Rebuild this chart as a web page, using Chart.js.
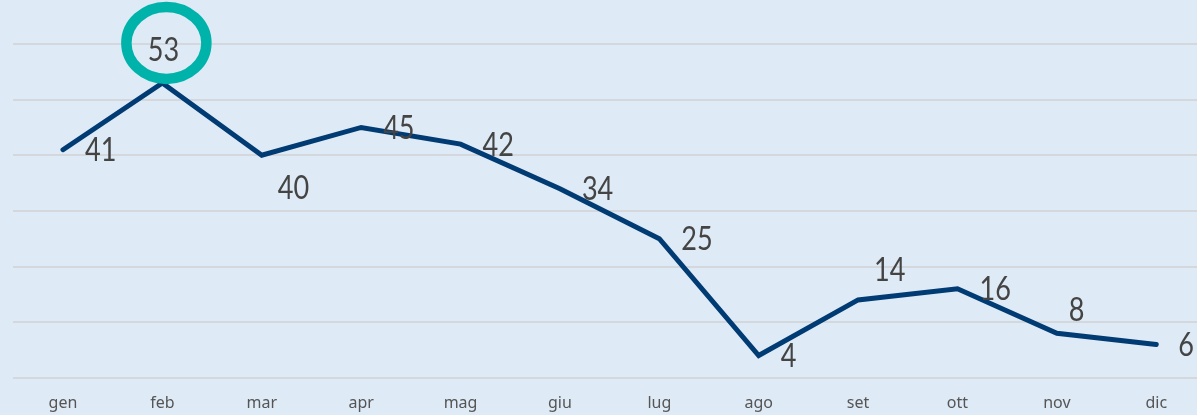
<!DOCTYPE html>
<html>
<head>
<meta charset="utf-8">
<script src="https://cdn.jsdelivr.net/npm/chart.js@4"></script>
<style>
  html, body { margin: 0; padding: 0; background: #deeaf5; overflow: hidden; }
  #wrap { width: 1197px; height: 421px; position: relative; }
</style>
</head>
<body>
<div id="wrap"><canvas id="c"></canvas></div>
<script>
const months = ['gen','feb','mar','apr','mag','giu','lug','ago','set','ott','nov','dic'];
const values = [41, 53, 40, 45, 42, 34, 25, 4, 14, 16, 8, 6];
const yTicks = [0, 10, 20, 30, 40, 50, 60];
// label placement per point (style only)
const labelPlacement = ['right','above','belowRight','right','right','right','right','right','aboveRight','right','aboveRight2','right'];
const highlightIndex = 1;

const placements = {
  right:       { dx: 22, dy: 0,   align: 'left' },
  above:       { dx: 1,  dy: -34, align: 'center' },
  belowRight:  { dx: 16, dy: 32,  align: 'left' },
  aboveRight:  { dx: 16, dy: -31, align: 'left' },
  aboveRight2: { dx: 12, dy: -24, align: 'left' }
};

const labelPlugin = {
  id: 'labels',
  afterDatasetsDraw(chart) {
    const ctx = chart.ctx;
    const meta = chart.getDatasetMeta(0);
    ctx.save();
    // highlight ring
    const hp = meta.data[highlightIndex];
    const p0 = placements[labelPlacement[highlightIndex]];
    ctx.beginPath();
    ctx.ellipse(hp.x + p0.dx + 3, hp.y + p0.dy - 6, 40, 36, 0, 0, Math.PI * 2);
    ctx.strokeStyle = '#00b3aa';
    ctx.lineWidth = 10.5;
    ctx.stroke();
    ctx.fillStyle = '#444444';
    ctx.textBaseline = 'middle';
    const sx = 0.82;
    meta.data.forEach((pt, i) => {
      const p = placements[labelPlacement[i]];
      ctx.save();
      ctx.translate(pt.x + p.dx, pt.y + p.dy + 1);
      ctx.scale(sx, 1);
      ctx.font = '400 33px Lato, "Open Sans", sans-serif';
      ctx.textAlign = p.align;
      ctx.fillText(String(values[i]), 0, 0);
      ctx.restore();
    });
    ctx.restore();
  }
};

new Chart(document.getElementById('c'), {
  type: 'line',
  data: {
    datasets: [{
      data: values.map((v, i) => ({ x: i, y: v })),
      borderColor: '#003b73',
      borderWidth: 5,
      pointRadius: 0,
      tension: 0,
      borderJoinStyle: 'miter',
      borderCapStyle: 'round',
      clip: false
    }]
  },
  options: {
    responsive: true,
    maintainAspectRatio: false,
    animation: false,
    layout: { padding: { left: 13, right: 0, top: 44, bottom: 0 } },
    plugins: { legend: { display: false }, tooltip: { enabled: false } },
    scales: {
      x: {
        type: 'linear',
        min: -0.503,
        max: 11.41,
        afterBuildTicks(scale) { scale.ticks = months.map((_, i) => ({ value: i })); },
        grid: { display: false },
        border: { display: false },
        ticks: {
          callback: (v) => months[v] ?? '',
          color: '#555555',
          font: { family: '"Noto Sans", "Open Sans", sans-serif', size: 16 },
          maxRotation: 0,
          autoSkip: false,
          padding: 8
        }
      },
      y: {
        min: 0,
        max: 60,
        afterBuildTicks(scale) { scale.ticks = yTicks.map(v => ({ value: v })); },
        grid: { color: '#d4d8dc', lineWidth: 2, drawTicks: false },
        border: { display: false },
        ticks: { display: false }
      }
    }
  },
  plugins: [labelPlugin]
});
</script>
</body>
</html>
